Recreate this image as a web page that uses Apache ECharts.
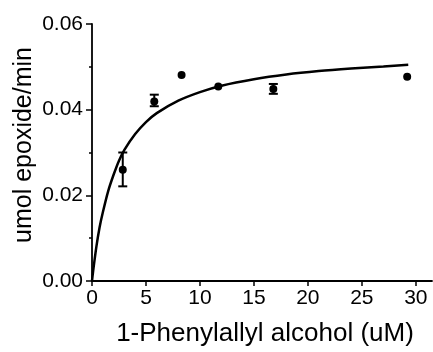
<!DOCTYPE html>
<html>
<head>
<meta charset="utf-8">
<script src="https://cdn.jsdelivr.net/npm/echarts@6/dist/echarts.min.js"></script>
<style>
html,body{margin:0;padding:0;background:#fff;}
#c{width:433px;height:352px;}
</style>
</head>
<body>
<div id="c"></div>
<script>
// Measured data points (x in uM, y in umol epoxide/min)
var pointX = [2.85, 5.77, 8.3, 11.7, 16.8, 29.2];
var pointY = [0.0260, 0.0419, 0.0481, 0.0454, 0.0448, 0.0477];
var errTop = [0.0300, 0.0435, null, null, 0.0460, null];
var errBottom = [0.0221, 0.0408, null, null, 0.0437, null];

// Fitted curve
var curveX = [0, 0.1, 0.4, 0.7, 1, 1.5, 2, 2.5, 3, 4, 5, 6, 8, 10, 12, 15, 18, 21, 24, 27, 29.3];
var curveY = [0, 0.0022, 0.0079, 0.0125, 0.0160, 0.0210, 0.0248, 0.0281, 0.0306, 0.0343, 0.0371, 0.0392, 0.0421, 0.0441, 0.0456, 0.0471, 0.0482, 0.0490, 0.0496, 0.0501, 0.0505];

// Axis ticks
var xTicks = [0, 5, 10, 15, 20, 25, 30];
var yTicks = [0, 0.02, 0.04, 0.06];

var xTitle = '1-Phenylallyl alcohol (uM)';
var yTitle = 'umol epoxide/min';

var FONT = '"Liberation Sans", Arial, Helvetica, sans-serif';

var chart = echarts.init(document.getElementById('c'), null, {renderer: 'canvas'});

var scatterData = pointX.map(function (x, i) { return [x, pointY[i]]; });
var curveData = curveX.map(function (x, i) { return [x, curveY[i]]; });
var errData = [];
pointX.forEach(function (x, i) {
  if (errTop[i] != null) errData.push([x, errBottom[i], errTop[i]]);
});

chart.setOption({
  animation: false,
  backgroundColor: '#fff',
  grid: {left: 92, right: 1, top: 24, bottom: 70, containLabel: false},
  xAxis: {
    type: 'value',
    min: 0,
    max: 31.5,
    interval: 5,
    splitLine: {show: false},
    axisLine: {show: true, onZero: false, lineStyle: {color: '#000', width: 1.8}},
    axisTick: {show: true, length: 5, customValues: xTicks, lineStyle: {color: '#000', width: 1.5}},
    axisLabel: {customValues: xTicks, color: '#000', fontFamily: FONT, fontSize: 21, margin: 7},
    name: xTitle,
    nameLocation: 'middle',
    nameGap: 40,
    nameTextStyle: {color: '#000', fontFamily: FONT, fontSize: 26, padding: [0, 0, 0, 6]}
  },
  yAxis: {
    type: 'value',
    min: 0,
    max: 0.06,
    interval: 0.02,
    splitLine: {show: false},
    axisLine: {show: true, onZero: false, lineStyle: {color: '#000', width: 1.8}},
    axisTick: {show: true, length: 6, lineStyle: {color: '#000', width: 1.5}},
    minorTick: {show: true, splitNumber: 2, length: 3, lineStyle: {color: '#000', width: 1.5}},
    minorSplitLine: {show: false},
    axisLabel: {
      color: '#000', fontFamily: FONT, fontSize: 21, margin: 9,
      formatter: function (v) { return v.toFixed(2); }
    }
  },
  graphic: [{
    type: 'text',
    x: 24,
    y: 145,
    rotation: Math.PI / 2,
    style: {
      text: yTitle,
      fill: '#000',
      font: '25px ' + FONT,
      align: 'center',
      verticalAlign: 'middle'
    }
  }],
  series: [
    {
      type: 'line',
      data: curveData,
      smooth: 0.3,
      showSymbol: false,
      symbol: 'none',
      lineStyle: {color: '#000', width: 2.5},
      z: 2
    },
    {
      type: 'custom',
      data: errData,
      z: 3,
      renderItem: function (params, api) {
        var x = api.value(0);
        var lo = api.coord([x, api.value(1)]);
        var hi = api.coord([x, api.value(2)]);
        var w = 4.5;
        var st = {stroke: '#000', lineWidth: 2};
        return {
          type: 'group',
          children: [
            {type: 'line', shape: {x1: lo[0], y1: lo[1], x2: hi[0], y2: hi[1]}, style: st},
            {type: 'line', shape: {x1: lo[0] - w, y1: lo[1], x2: lo[0] + w, y2: lo[1]}, style: st},
            {type: 'line', shape: {x1: hi[0] - w, y1: hi[1], x2: hi[0] + w, y2: hi[1]}, style: st}
          ]
        };
      }
    },
    {
      type: 'scatter',
      data: scatterData,
      symbol: 'circle',
      symbolSize: 8,
      itemStyle: {color: '#000', opacity: 1},
      z: 4
    }
  ]
});
</script>
</body>
</html>
